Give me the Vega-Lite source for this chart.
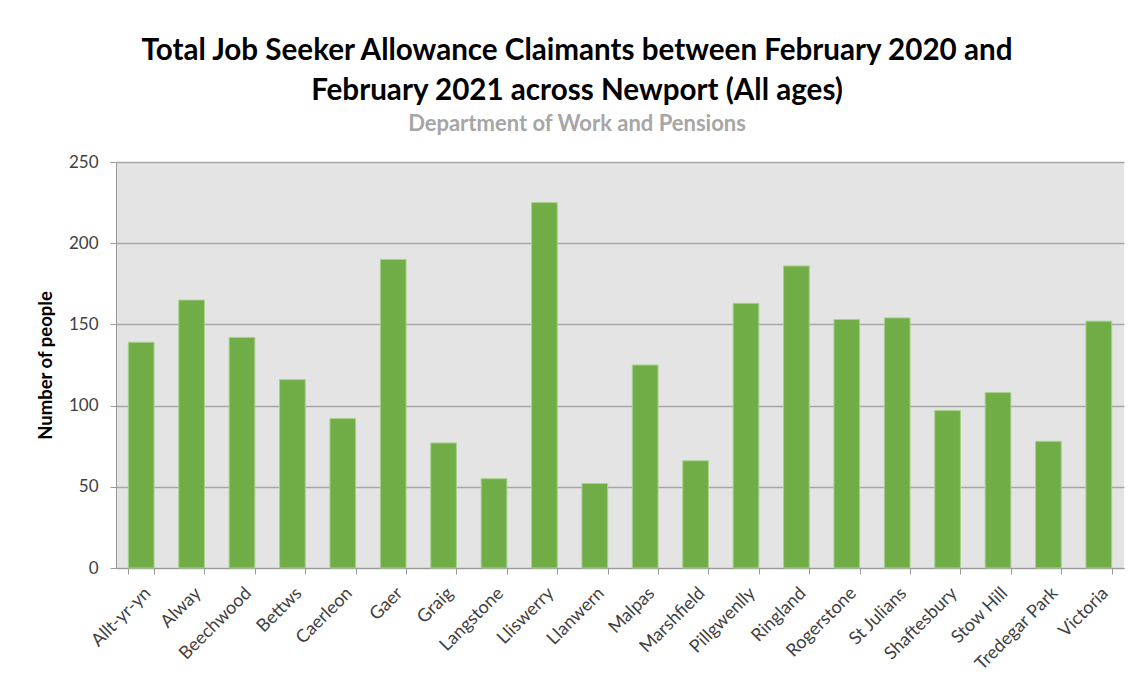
{
  "$schema": "https://vega.github.io/schema/vega-lite/v6.json",
  "autosize": {"type": "none"},
  "width": 1008,
  "height": 406,
  "padding": {"left": 116, "top": 162, "right": 10, "bottom": 116},
  "background": "white",
  "title": {
    "text": ["Total Job Seeker Allowance Claimants between February 2020 and", "February 2021 across Newport (All ages)"],
    "subtitle": "Department of Work and Pensions",
    "font": "Lato",
    "fontSize": 29.6,
    "fontWeight": "bold",
    "color": "#000000",
    "lineHeight": 40,
    "subtitleFont": "Lato",
    "subtitleFontSize": 22,
    "subtitleFontWeight": "bold",
    "subtitleColor": "#a6a6a6",
    "subtitlePadding": 7,
    "anchor": "middle",
    "frame": "group",
    "dx": -43,
    "offset": 17
  },
  "data": {
    "values": [
      {"ward": "Allt-yr-yn", "claimants": 139},
      {"ward": "Alway", "claimants": 165},
      {"ward": "Beechwood", "claimants": 142},
      {"ward": "Bettws", "claimants": 116},
      {"ward": "Caerleon", "claimants": 92},
      {"ward": "Gaer", "claimants": 190},
      {"ward": "Graig", "claimants": 77},
      {"ward": "Langstone", "claimants": 55},
      {"ward": "Lliswerry", "claimants": 225},
      {"ward": "Llanwern", "claimants": 52},
      {"ward": "Malpas", "claimants": 125},
      {"ward": "Marshfield", "claimants": 66},
      {"ward": "Pillgwenlly", "claimants": 163},
      {"ward": "Ringland", "claimants": 186},
      {"ward": "Rogerstone", "claimants": 153},
      {"ward": "St Julians", "claimants": 154},
      {"ward": "Shaftesbury", "claimants": 97},
      {"ward": "Stow Hill", "claimants": 108},
      {"ward": "Tredegar Park", "claimants": 78},
      {"ward": "Victoria", "claimants": 152}
    ]
  },
  "mark": {"type": "bar", "color": "#70ad47", "stroke": "#a9d18e", "strokeWidth": 1},
  "encoding": {
    "x": {
      "field": "ward",
      "type": "nominal",
      "sort": null,
      "scale": {"paddingInner": 0.49, "paddingOuter": 0.245},
      "axis": {
        "title": null,
        "labelAngle": -45,
        "labelFont": "Lato",
        "labelFontSize": 18,
        "labelColor": "#404040",
        "labelPadding": 10,
        "tickBand": "extent",
        "tickSize": 6,
        "tickColor": "#999999",
        "domainColor": "#999999",
        "grid": false
      }
    },
    "y": {
      "field": "claimants",
      "type": "quantitative",
      "scale": {"domain": [0, 250]},
      "axis": {
        "title": "Number of people",
        "titleFont": "Lato",
        "titleFontSize": 18.5,
        "titleFontWeight": "bold",
        "titleColor": "#000000",
        "titlePadding": 13,
        "values": [0, 50, 100, 150, 200, 250],
        "labelFont": "Lato",
        "labelFontSize": 17,
        "labelColor": "#404040",
        "labelPadding": 12,
        "tickSize": 6,
        "tickColor": "#999999",
        "domainColor": "#999999",
        "gridColor": "#a6a6a6",
        "gridWidth": 1.5
      }
    }
  },
  "config": {
    "view": {"fill": "#e4e4e4", "stroke": null}
  }
}
